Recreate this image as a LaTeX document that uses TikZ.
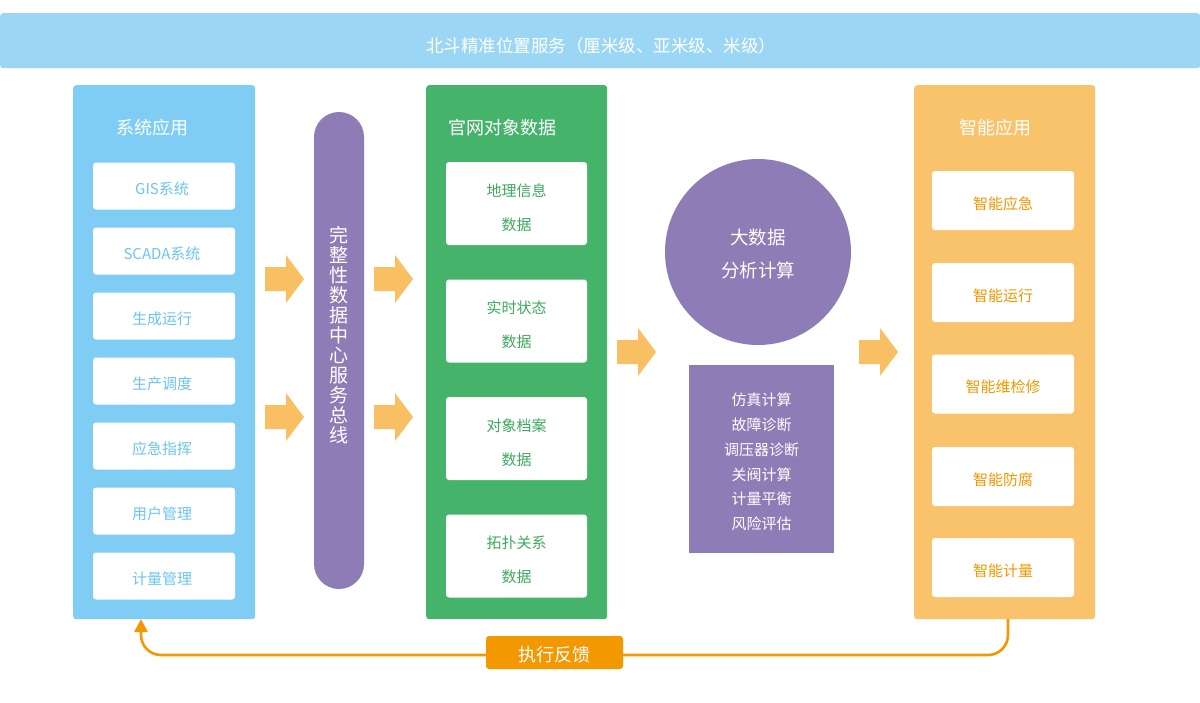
\documentclass[tikz,border=0pt]{standalone}
\usepackage{fontspec}
\setmainfont{Noto Sans CJK SC}
\usetikzlibrary{arrows.meta}
\definecolor{topc}{HTML}{9BD7F4}
\definecolor{sysc}{HTML}{7FCDF4}
\definecolor{busc}{HTML}{8E7CB6}
\definecolor{grnc}{HTML}{46B36A}
\definecolor{orgc}{HTML}{F8C36B}
\definecolor{arrc}{HTML}{F8C062}
\definecolor{fbc}{HTML}{F39800}
\definecolor{systx}{HTML}{6DC5EF}
\definecolor{grntx}{HTML}{3DAA5E}
\definecolor{orgtx}{HTML}{F39800}
\begin{document}
\begin{tikzpicture}[x=1pt,y=-1pt,
  panel/.style={rounded corners=3pt, inner sep=0pt},
  wbox/.style={fill=white, rounded corners=3pt, inner sep=0pt},
  txt/.style={inner sep=0pt, align=center},
  small/.style={font=\fontsize{15}{18}\selectfont},
  ttl/.style={text=white, font=\fontsize{18}{20}\selectfont},
  bigarrow/.pic={\fill[arrc] (-20,-12) -- (1,-12) -- (1,-24) -- (19,0) -- (1,24) -- (1,12) -- (-20,12) -- cycle;},
  fbline/.style={draw=fbc, line width=2.6pt, rounded corners=20pt, -{Triangle[width=13pt,length=13pt]}}
]
\useasboundingbox (0,0) rectangle (1200,702);

% top bar
\node[panel, fill=topc, minimum width=1200pt, minimum height=55pt, anchor=north west] (top) at (0,13) {};
\node[ttl, font=\fontsize{17.5}{20}\selectfont] (toptxt) at (601,46) {北斗精准位置服务（厘米级、亚米级、米级）};

% left panel
\node[panel, fill=sysc, minimum width=182pt, minimum height=534pt, anchor=north west] (sys) at (73,85) {};
\node[ttl] (systtl) at (152,128) {系统应用};
\foreach \t [count=\i from 0] in {GIS系统,SCADA系统,生成运行,生产调度,应急指挥,用户管理,计量管理}{
  \node[wbox, minimum width=142pt, minimum height=47pt] (s\i) at (164,186+65*\i) {};
  \node[txt, small, text=systx] (st\i) at ([xshift=-2pt,yshift=-3pt]s\i.center) {\t};
}

% bus
\node[fill=busc, rounded corners=25pt, minimum width=50pt, minimum height=477pt, inner sep=0pt] (bus) at (339,350.5) {};
\node[text=white, align=center, font=\fontsize{19}{20}\selectfont, inner sep=0pt] (bustxt) at (339,335)
  {完\\整\\性\\数\\据\\中\\心\\服\\务\\总\\线};

% arrows
\pic (a1) at (285,279) {bigarrow};
\pic (a2) at (285,417) {bigarrow};
\pic (a3) at (394,279) {bigarrow};
\pic (a4) at (394,417) {bigarrow};
\pic (a5) at (637,352) {bigarrow};
\pic (a6) at (879,352) {bigarrow};

% green panel
\node[panel, fill=grnc, minimum width=181pt, minimum height=534pt, anchor=north west] (data) at (426,85) {};
\node[ttl] (datattl) at (502,128) {官网对象数据};
\foreach \t/\y [count=\i] in {地理信息/203.5,实时状态/321,对象档案/438.5,拓扑关系/556}{
  \node[wbox, minimum width=141pt, minimum height=83pt] (d\i) at (516.5,\y) {};
  \node[txt, text=grntx, font=\fontsize{15}{34}\selectfont] (dt\i) at ([yshift=-4pt]d\i.center) {\t\\数据};
}

% circle
\node[circle, fill=busc, minimum size=186pt, inner sep=0pt] (circ) at (758,252) {};
\node[txt, text=white, font=\fontsize{18.5}{33}\selectfont] (circt) at ([yshift=-2pt]circ.center) {大数据\\分析计算};

% calc box
\node[fill=busc, minimum width=145pt, minimum height=188pt, inner sep=0pt] (calc) at (761.5,459) {};
\node[txt, text=white, font=\fontsize{15}{24.8}\selectfont] (calct) at ([yshift=-3pt]calc.center)
  {仿真计算\\故障诊断\\调压器诊断\\关阀计算\\计量平衡\\风险评估};

% orange panel
\node[panel, fill=orgc, minimum width=181pt, minimum height=534pt, anchor=north west] (smart) at (914,85) {};
\node[ttl] (smartttl) at (995,128) {智能应用};
\foreach \t/\y [count=\i] in {智能应急/200.5,智能运行/292.5,智能维检修/384,智能防腐/476.5,智能计量/567.5}{
  \node[wbox, minimum width=142pt, minimum height=59pt] (o\i) at (1003,\y) {};
  \node[txt, small, text=orgtx] (ot\i) at ([yshift=-3pt]o\i.center) {\t};
}

% feedback
\coordinate (fbs) at (1008,619);
\coordinate (fbe) at (141,619);
\draw[fbline] (fbs) -- (1008,655) -| (fbe);
\node[fill=fbc, rounded corners=3pt, minimum width=137pt, minimum height=33pt, inner sep=0pt] (fb) at (554.5,652.5) {};
\node[txt, text=white, font=\fontsize{18}{20}\selectfont] (fbt) at ([yshift=-2pt]fb.center) {执行反馈};
\end{tikzpicture}
\end{document}
